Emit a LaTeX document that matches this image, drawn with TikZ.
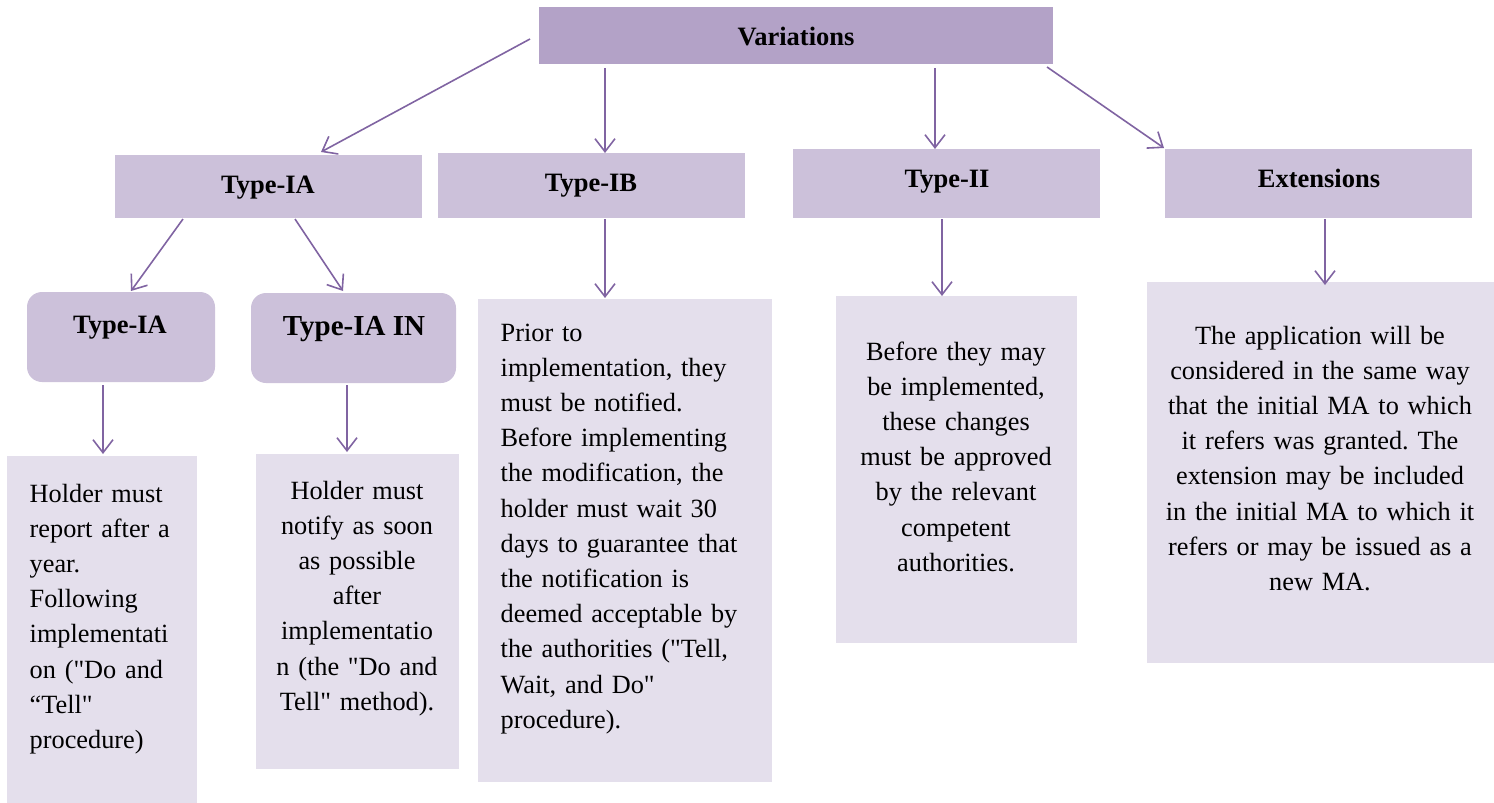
\documentclass[tikz,border=0pt]{standalone}
\usepackage{fontspec}
\setmainfont{Liberation Serif}[Ligatures=TeXOff]
\usetikzlibrary{arrows.meta,calc}
\frenchspacing

\definecolor{rootfill}{HTML}{B3A2C7}
\definecolor{typefill}{HTML}{CCC1DA}
\definecolor{notefill}{HTML}{E4DFEC}
\definecolor{linkcol}{HTML}{8064A2}

\tikzset{
  box/.style={anchor=north west, inner sep=0pt, outer sep=0pt},
  rootbox/.style={box, fill=rootfill},
  typebox/.style={box, fill=typefill},
  subbox/.style={box, fill=typefill, rounded corners=15pt},
  notebox/.style={box, fill=notefill},
  title/.style={anchor=base, inner sep=0pt, font=\fontsize{26.5}{30}\selectfont\bfseries},
  bigtitle/.style={title, font=\fontsize{29}{33}\selectfont\bfseries},
  bodyleft/.style={anchor=base west, inner sep=0pt, align=left,
    font=\fontsize{26.3}{35.2}\selectfont},
  bodymid/.style={anchor=base, inner sep=0pt, align=center,
    font=\fontsize{26.3}{35.2}\selectfont},
  link/.style={draw=linkcol, line width=1.6pt,
    -{Straight Barb[length=13pt,width=20pt,line width=1.6pt]}}
}

\begin{document}
\begin{tikzpicture}[x=1pt, y=-1pt]
\useasboundingbox (0,0) rectangle (1494,803);

% root
\node[rootbox, minimum width=514, minimum height=57] (var) at (539,7) {};
\node[title] (varlab) at (796,45) {Variations};

% variation types
\node[typebox, minimum width=307, minimum height=63] (ia)  at (115,155) {};
\node[typebox, minimum width=307, minimum height=65] (ib)  at (438,153) {};
\node[typebox, minimum width=307, minimum height=69] (ii)  at (793,149) {};
\node[typebox, minimum width=307, minimum height=69] (ext) at (1165,149) {};
\node[title] (ialab)  at (268,193)  {Type-IA};
\node[title] (iblab)  at (591,191)  {Type-IB};
\node[title] (iilab)  at (947,187)  {Type-II};
\node[title] (extlab) at (1319,187) {Extensions};

% Type-IA subtypes
\node[subbox, minimum width=188, minimum height=90] (ria) at (27,292) {};
\node[subbox, minimum width=205, minimum height=90] (rin) at (251,293) {};
\node[title]    (rialab) at (120,333) {Type-IA};
\node[bigtitle] (rinlab) at (354,335) {Type-IA IN};

% description boxes
\node[notebox, minimum width=190, minimum height=347] (t1)  at (7,456) {};
\node[notebox, minimum width=203, minimum height=315] (t2)  at (256,454) {};
\node[notebox, minimum width=294, minimum height=483] (tib) at (478,299) {};
\node[notebox, minimum width=241, minimum height=347] (tii) at (836,296) {};
\node[notebox, minimum width=347, minimum height=381] (tex) at (1147,282) {};

\node[bodyleft, text width=175] (t1txt) at (29.5,502)
  {Holder must\\report after a\\year.\\Following\\implementati\\on ("Do and\\“Tell"\\procedure)};
\node[bodymid, text width=200] (t2txt) at (357,499)
  {Holder must\\notify as soon\\as possible\\after\\implementatio\\n (the "Do and\\Tell" method).};
\node[bodyleft, text width=285] (tibtxt) at (500.5,341)
  {Prior to\\implementation, they\\must be notified.\\Before implementing\\the modification, the\\holder must wait 30\\days to guarantee that\\the notification is\\deemed acceptable by\\the authorities ("Tell,\\Wait, and Do"\\procedure).};
\node[bodymid, text width=235] (tiitxt) at (956,360)
  {Before they may\\be implemented,\\these changes\\must be approved\\by the relevant\\competent\\authorities.};
\node[bodymid, text width=340] (textxt) at (1320,344)
  {The application will be\\considered in the same way\\that the initial MA to which\\it refers was granted. The\\extension may be included\\in the initial MA to which it\\refers or may be issued as a\\new MA.};

% connectors
\draw[link] ($(var.west)+(-9,3.5)$)        -- ($(ia.north west)+(206,-3)$);
\draw[link] ($(var.south west)+(66,4)$)    -- ($(ib.north west)+(167,0)$);
\draw[link] ($(var.south west)+(396,4)$)   -- ($(ii.north west)+(142,0)$);
\draw[link] ($(var.south east)+(-6,3)$)    -- ($(ext.north west)+(-1,-1)$);
\draw[link] ($(ia.south west)+(68,1)$)     -- ($(ria.north west)+(104,-1)$);
\draw[link] ($(ia.south west)+(180,1)$)    -- ($(rin.north west)+(92,-2)$);
\draw[link] ($(ria.south west)+(76,3)$)    -- ($(t1.north west)+(96,-2)$);
\draw[link] ($(rin.south west)+(96,2)$)    -- ($(t2.north west)+(91,-2)$);
\draw[link] ($(ib.south west)+(167,1)$)    -- ($(tib.north west)+(127,-1)$);
\draw[link] ($(ii.south west)+(149,1)$)    -- ($(tii.north west)+(106,0)$);
\draw[link] ($(ext.south west)+(160,1)$)   -- ($(tex.north west)+(178,3)$);
\end{tikzpicture}
\end{document}
